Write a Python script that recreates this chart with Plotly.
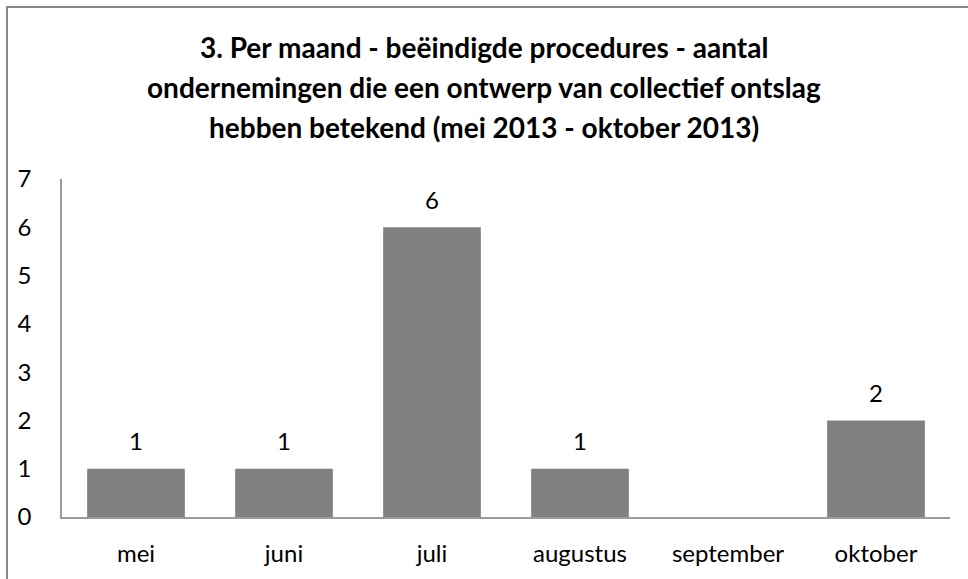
import plotly.graph_objects as go

months = ["mei", "juni", "juli", "augustus", "september", "oktober"]
values = [1, 1, 6, 1, None, 2]
title_lines = [
    "3. Per maand - beëindigde procedures - aantal",
    "ondernemingen die een ontwerp van collectief ontslag",
    "hebben betekend (mei 2013 - oktober 2013)",
]
y_ticks = [0, 1, 2, 3, 4, 5, 6, 7]

W, H = 968, 579
L, R, T, B = 62, 18, 179, 62
ph = H - T - B
pw = W - L - R

def py(pix):
    return (H - B - pix) / ph

def px(pix):
    return (pix - L) / pw

FONT = "Lato"
FS = 24

fig = go.Figure()
fig.add_trace(go.Bar(x=months, y=values, marker=dict(color="#808080", line=dict(width=0)),
                     width=0.66, hoverinfo="x+y"))

annotations = []
for m, v in zip(months, values):
    if v is not None:
        annotations.append(dict(x=m, y=v, text=str(v), showarrow=False, yshift=28,
                                font=dict(family=FONT, size=FS, color="#000000")))
for i, line in enumerate(title_lines):
    annotations.append(dict(xref="paper", yref="paper", x=px(484), y=py(47 + 40 * i),
                            xanchor="center", yanchor="middle", text="<b>%s</b>" % line,
                            showarrow=False, font=dict(family=FONT, size=28, color="#000000")))

fig.update_layout(
    width=W, height=H,
    margin=dict(l=L, r=R, t=T, b=B, autoexpand=False),
    paper_bgcolor="white", plot_bgcolor="white",
    showlegend=False,
    annotations=annotations,
    shapes=[dict(type="rect", xref="paper", yref="paper",
                 x0=px(7), x1=px(972), y0=py(584), y1=py(7),
                 line=dict(color="#878787", width=2), fillcolor="rgba(0,0,0,0)", layer="below")],
    font=dict(family=FONT, size=FS, color="#000000"),
)
fig.update_xaxes(showline=True, linecolor="#9a9a9a", linewidth=1.5, ticks="", showgrid=False,
                 tickfont=dict(family=FONT, size=FS), ticklabelstandoff=14, zeroline=False,
                 automargin=False)
fig.update_yaxes(range=[0, 7], tickvals=y_ticks, showline=True, linecolor="#9a9a9a", linewidth=1.5,
                 ticks="", showgrid=False, zeroline=False, tickfont=dict(family=FONT, size=FS),
                 ticklabelstandoff=24, automargin=False)

fig.write_html("out.html", config={"displayModeBar": False},
               post_script="document.body.style.margin='0';")
